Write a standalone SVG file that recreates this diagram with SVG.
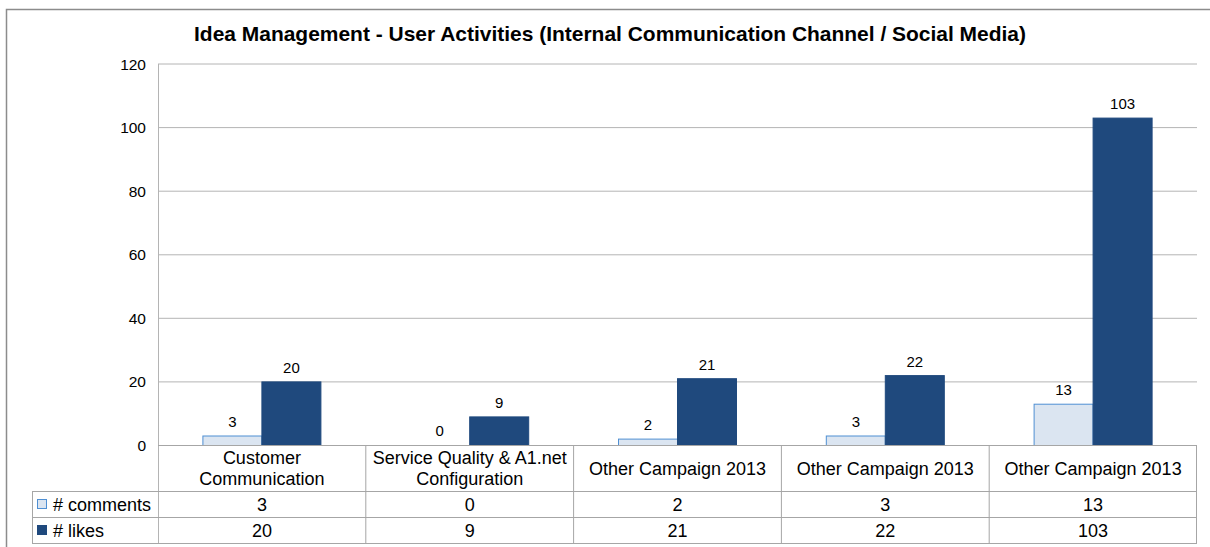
<svg xmlns="http://www.w3.org/2000/svg" width="1210" height="547" viewBox="0 0 1210 547">
  <style>
    text { font-family: "Liberation Sans", Arial, sans-serif; fill: #000; }
    .title { font-size: 20.5px; font-weight: bold; text-anchor: middle; }
    .ytick { font-size: 15.5px; text-anchor: end; }
    .val { font-size: 15px; text-anchor: middle; }
    .cell { font-size: 18px; text-anchor: middle; }
    .legend { font-size: 18px; }
    .grid { stroke: #b4b4b4; stroke-width: 1; }
    .tbl { stroke: #a6a6a6; stroke-width: 1; fill: none; }
    .comments { fill: #dbe5f1; stroke: #4f8fd3; stroke-width: 1; }
    .likes { fill: #1f497d; stroke: #1f497d; stroke-width: 1; }
  </style>

  <rect x="0" y="0" width="1210" height="547" fill="#ffffff"/>
  <!-- chart frame -->
  <rect x="6.5" y="9.5" width="1220" height="560" fill="none" stroke="#8c8c8c" stroke-width="1.5"/>

  <text class="title" x="610" y="41" textLength="832" lengthAdjust="spacingAndGlyphs">Idea Management - User Activities (Internal Communication Channel / Social Media)</text>

  <!-- value axis and gridlines -->
  <g id="axis">
    <line class="grid" x1="158" y1="64" x2="1197" y2="64"/>
    <line class="grid" x1="158" y1="127.6" x2="1197" y2="127.6"/>
    <line class="grid" x1="158" y1="191.2" x2="1197" y2="191.2"/>
    <line class="grid" x1="158" y1="254.8" x2="1197" y2="254.8"/>
    <line class="grid" x1="158" y1="318.3" x2="1197" y2="318.3"/>
    <line class="grid" x1="158" y1="381.9" x2="1197" y2="381.9"/>
    <line class="grid" x1="158.5" y1="64" x2="158.5" y2="543"/>
    <text class="ytick" x="146" y="69.5">120</text>
    <text class="ytick" x="146" y="133">100</text>
    <text class="ytick" x="146" y="196.7">80</text>
    <text class="ytick" x="146" y="260.3">60</text>
    <text class="ytick" x="146" y="323.8">40</text>
    <text class="ytick" x="146" y="387.4">20</text>
    <text class="ytick" x="146" y="451">0</text>
  </g>

  <!-- bars: y(v) = 445.5 - v * 3.179 -->
  <g id="group-1">
    <rect class="comments" x="202.9" y="436" width="59" height="9.5"/>
    <rect class="likes" x="261.9" y="381.9" width="59" height="63.6"/>
    <text class="val" x="232.4" y="427">3</text>
    <text class="val" x="291.4" y="373">20</text>
  </g>
  <g id="group-2">
    <text class="val" x="439.7" y="436">0</text>
    <rect class="likes" x="469.7" y="416.9" width="59" height="28.6"/>
    <text class="val" x="499.2" y="408">9</text>
  </g>
  <g id="group-3">
    <rect class="comments" x="618.5" y="439.1" width="59" height="6.4"/>
    <rect class="likes" x="677.5" y="378.7" width="59" height="66.8"/>
    <text class="val" x="648" y="430">2</text>
    <text class="val" x="707" y="370">21</text>
  </g>
  <g id="group-4">
    <rect class="comments" x="826.3" y="436" width="59" height="9.5"/>
    <rect class="likes" x="885.3" y="375.6" width="59" height="69.9"/>
    <text class="val" x="855.8" y="427">3</text>
    <text class="val" x="914.8" y="367">22</text>
  </g>
  <g id="group-5">
    <rect class="comments" x="1034.1" y="404.2" width="59" height="41.3"/>
    <rect class="likes" x="1093.1" y="118.1" width="59" height="327.4"/>
    <text class="val" x="1063.6" y="395">13</text>
    <text class="val" x="1122.6" y="109">103</text>
  </g>

  <!-- data table -->
  <g id="table">
    <line class="tbl" x1="158" y1="445.5" x2="1197" y2="445.5"/>
    <line class="tbl" x1="32" y1="491.5" x2="1197" y2="491.5"/>
    <line class="tbl" x1="32" y1="517.5" x2="1197" y2="517.5"/>
    <line class="tbl" x1="32" y1="543.5" x2="1197" y2="543.5"/>
    <line class="tbl" x1="32.5" y1="491.5" x2="32.5" y2="543.5"/>
    <line class="tbl" x1="365.8" y1="445.5" x2="365.8" y2="543.5"/>
    <line class="tbl" x1="573.6" y1="445.5" x2="573.6" y2="543.5"/>
    <line class="tbl" x1="781.4" y1="445.5" x2="781.4" y2="543.5"/>
    <line class="tbl" x1="989.2" y1="445.5" x2="989.2" y2="543.5"/>
    <line class="tbl" x1="1196.5" y1="445.5" x2="1196.5" y2="543.5"/>

    <text class="cell" x="261.9" y="464">Customer</text>
    <text class="cell" x="261.9" y="485">Communication</text>
    <text class="cell" x="469.7" y="464">Service Quality &amp; A1.net</text>
    <text class="cell" x="469.7" y="485">Configuration</text>
    <text class="cell" x="677.5" y="475">Other Campaign 2013</text>
    <text class="cell" x="885.3" y="475">Other Campaign 2013</text>
    <text class="cell" x="1093.1" y="475">Other Campaign 2013</text>

    <rect class="comments" x="37.5" y="499.5" width="9" height="9"/>
    <text class="legend" x="53" y="510.5"># comments</text>
    <rect class="likes" x="37.5" y="525.5" width="9" height="9"/>
    <text class="legend" x="53" y="536.5"># likes</text>

    <text class="cell" x="261.9" y="510.5">3</text>
    <text class="cell" x="469.7" y="510.5">0</text>
    <text class="cell" x="677.5" y="510.5">2</text>
    <text class="cell" x="885.3" y="510.5">3</text>
    <text class="cell" x="1093.1" y="510.5">13</text>
    <text class="cell" x="261.9" y="536.5">20</text>
    <text class="cell" x="469.7" y="536.5">9</text>
    <text class="cell" x="677.5" y="536.5">21</text>
    <text class="cell" x="885.3" y="536.5">22</text>
    <text class="cell" x="1093.1" y="536.5">103</text>
  </g>
</svg>
